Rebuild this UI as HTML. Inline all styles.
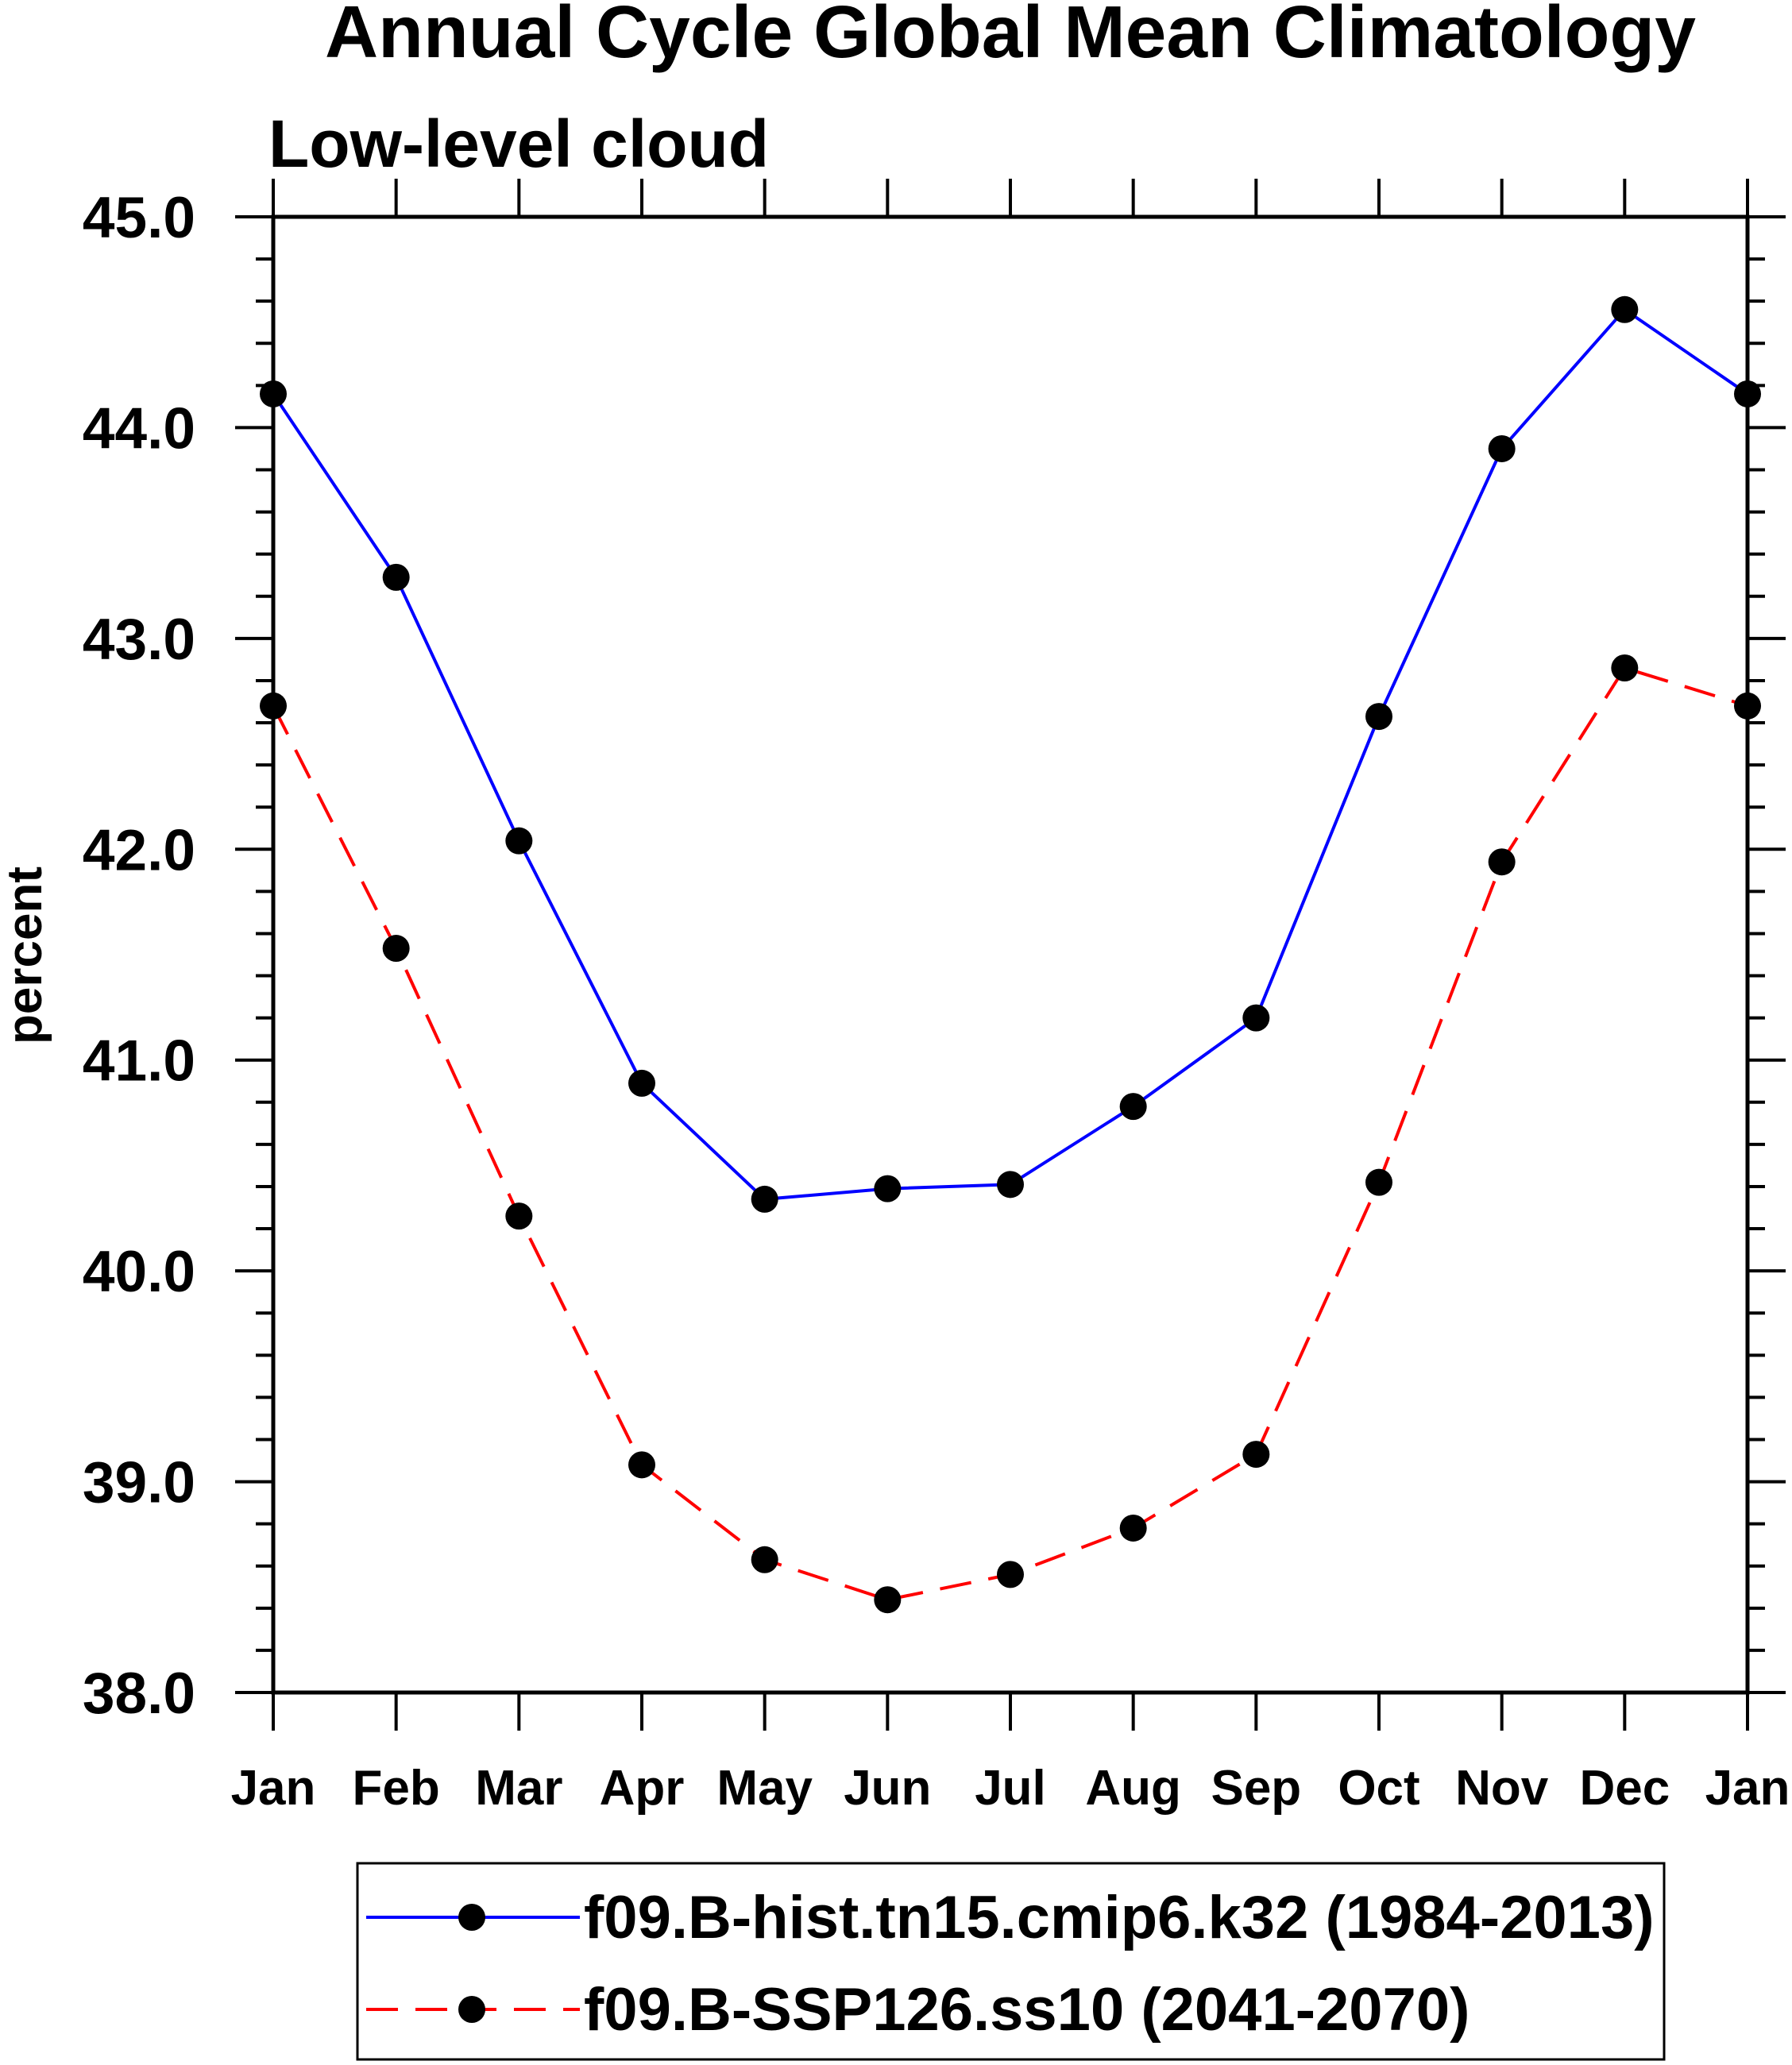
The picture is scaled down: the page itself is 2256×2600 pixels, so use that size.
<!DOCTYPE html>
<html><head><meta charset="utf-8"><style>
html,body{margin:0;padding:0;background:#fff;}
svg{display:block;font-family:"Liberation Sans",Arial,sans-serif;font-weight:bold;}
</style></head><body>
<svg id="chart" width="2256" height="2600" viewBox="0 0 2256 2600">
<text x="1272" y="72" font-size="93" text-anchor="middle">Annual Cycle Global Mean Climatology</text>
<text x="338" y="210" font-size="84">Low-level cloud</text>
<text transform="translate(52,1203) rotate(-90)" font-size="62" text-anchor="middle">percent</text>
<g id="axes"></g>
<g id="series"></g>
<rect x="450" y="2346" width="1645" height="247" fill="none" stroke="#000" stroke-width="3"/>
<g>
<line x1="461" y1="2414" x2="730" y2="2414" stroke="#0000ff" stroke-width="4"/>
<circle cx="594" cy="2414" r="17" fill="#000"/>
<text x="735" y="2440" font-size="76">f09.B-hist.tn15.cmip6.k32 (1984-2013)</text>
</g>
<g>
<line x1="461" y1="2530" x2="730" y2="2530" stroke="#ff0000" stroke-width="4" stroke-dasharray="40,22"/>
<circle cx="594" cy="2530" r="17" fill="#000"/>
<text x="735" y="2556" font-size="76">f09.B-SSP126.ss10 (2041-2070)</text>
</g>
</svg>
<script>
const months = ["Jan","Feb","Mar","Apr","May","Jun","Jul","Aug","Sep","Oct","Nov","Dec","Jan"];
const histValues = [44.16,43.29,42.04,40.89,40.34,40.39,40.41,40.78,41.2,42.63,43.9,44.56,44.16];
const sspValues = [42.68,41.53,40.26,39.08,38.63,38.44,38.56,38.78,39.13,40.42,41.94,42.86,42.68];
const yTicks = [38,39,40,41,42,43,44,45];
const yTickLabels = ["38.0","39.0","40.0","41.0","42.0","43.0","44.0","45.0"];

const L=344,R=2200,T=273,B=2131,yMin=38,yMax=45;
const NS="http://www.w3.org/2000/svg";
const xs=i=>L+(R-L)*i/(months.length-1);
const ys=v=>B-(B-T)*(v-yMin)/(yMax-yMin);
function mk(tag,attrs,parent){const e=document.createElementNS(NS,tag);for(const k in attrs)e.setAttribute(k,attrs[k]);parent.appendChild(e);return e;}
const axes=document.getElementById('axes'),series=document.getElementById('series');

const frame=mk('rect',{x:L,y:T,width:R-L,height:B-T,fill:'none',stroke:'#000','stroke-width':5},axes);



for(let v=yMin*5;v<=yMax*5;v++){
  const val=v/5,y=ys(val),major=(v%5===0);
  const len=major?48:22;
  const t1=mk('line',{x1:L-len,y1:y,x2:L,y2:y,stroke:'#000','stroke-width':4},axes);
  
  
  const t2=mk('line',{x1:R,y1:y,x2:R+len,y2:y,stroke:'#000','stroke-width':4},axes);
  
  
}
yTicks.forEach((v,i)=>{
  const t=mk('text',{x:246,y:ys(v)+26,'font-size':73,'text-anchor':'end'},axes);
  t.textContent=yTickLabels[i];
  
  
});
months.forEach((m,i)=>{
  const x=xs(i);
  const a=mk('line',{x1:x,y1:B,x2:x,y2:B+48,stroke:'#000','stroke-width':4},axes);
  
  
  const b=mk('line',{x1:x,y1:T-48,x2:x,y2:T,stroke:'#000','stroke-width':4},axes);
  
  
  const t=mk('text',{x:x,y:2272,'font-size':62,'text-anchor':'middle'},axes);
  t.textContent=m;
  
  
});

function drawSeries(vals,color,dash,name){
  const pts=vals.map((v,i)=>xs(i)+','+ys(v)).join(' ');
  const pl=mk('polyline',{points:pts,fill:'none',stroke:color,'stroke-width':4,'stroke-dasharray':dash},series);
  
  
  vals.forEach((v,i)=>{
    const c=mk('circle',{cx:xs(i),cy:ys(v),r:17,fill:'#000'},series);
    
    
  });
}
drawSeries(histValues,'#0000ff','none','hist');
drawSeries(sspValues,'#ff0000','40,22','ssp126');
</script>
</body></html>
